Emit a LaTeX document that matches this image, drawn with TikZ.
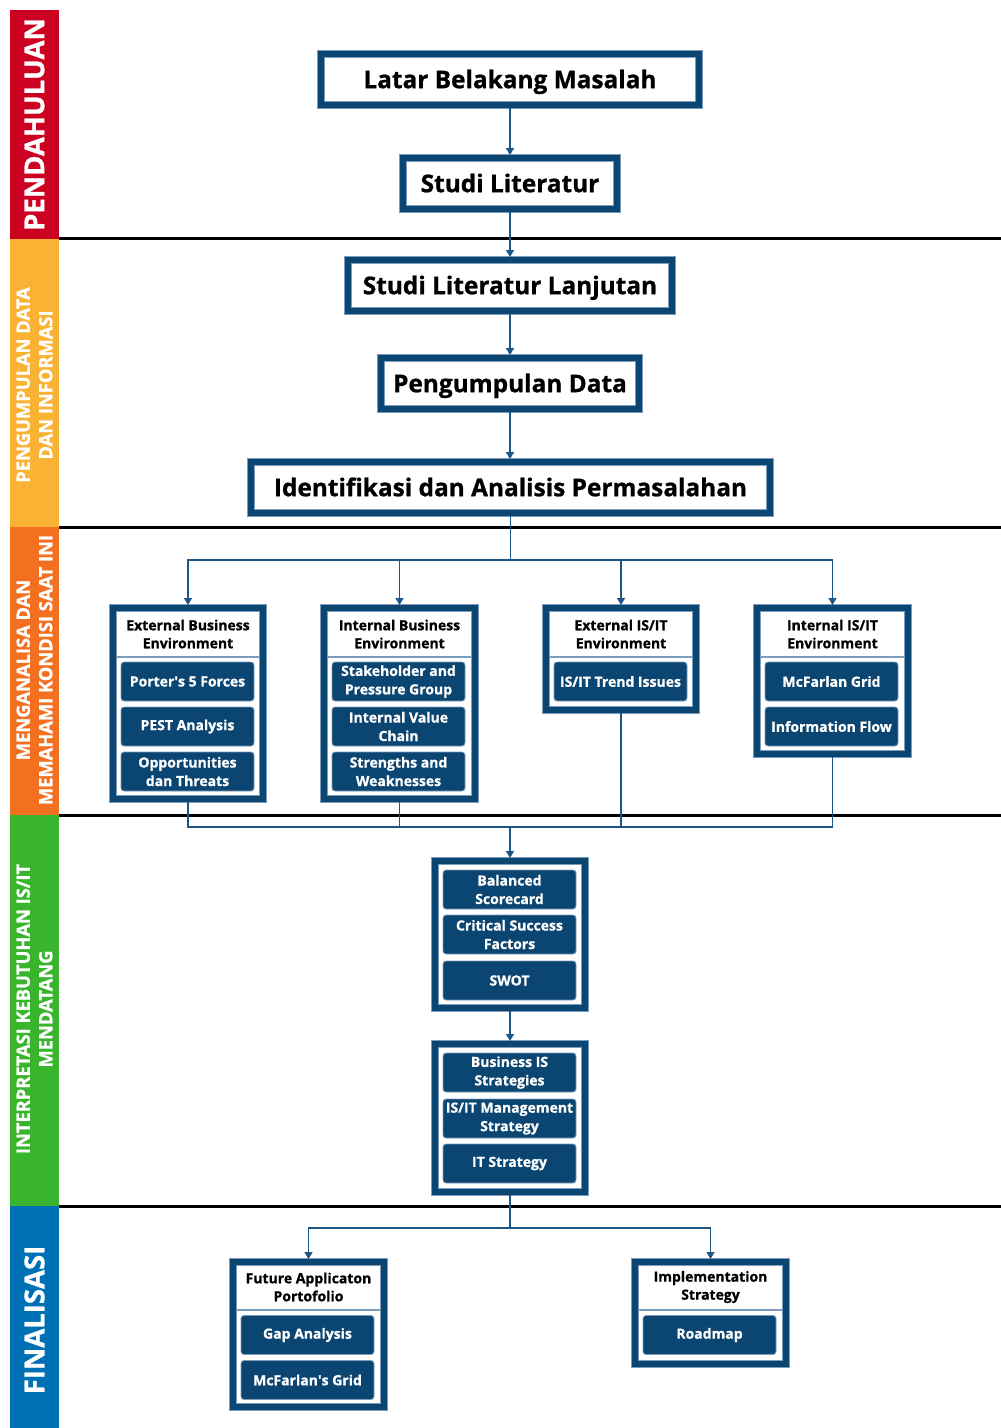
\documentclass[tikz,border=0pt]{standalone}
\usepackage{fontspec}
\setmainfont{Open Sans}[BoldFeatures={FakeBold=0.9}]
\usetikzlibrary{arrows.meta}
\definecolor{dblue}{HTML}{0B4572}
\definecolor{edge}{HTML}{7C9CBC}
\definecolor{conn}{HTML}{1D5585}
\definecolor{bred}{HTML}{CC0020}
\definecolor{byel}{HTML}{F9B233}
\definecolor{bora}{HTML}{F37021}
\definecolor{bgrn}{HTML}{38B52D}
\definecolor{bblu}{HTML}{0070B5}
\tikzset{
  mainbox/.style={draw=dblue, line width=6pt, preaction={draw=edge, line width=7.4pt},
    inner sep=0pt, font=\fontsize{24.4}{30}\selectfont\bfseries, text=black,
    text height=17.4pt, text depth=0pt},
  frame/.style={draw=dblue, line width=6pt, preaction={draw=edge, line width=7.4pt}, inner sep=0pt},
  hdr/.style={font=\fontsize{14}{18}\selectfont\bfseries, align=center, text=black, inner sep=0pt},
  item/.style={fill=dblue, draw=edge, line width=0.8pt, rounded corners=3pt,
    minimum width=133pt, minimum height=39pt, inner sep=0pt, text=white,
    font=\fontsize{14}{18.5}\selectfont\bfseries, align=center},
  divider/.style={draw=edge, line width=1.4pt},
  sepline/.style={draw=black, line width=3pt},
  lnk/.style={draw=conn, line width=1.5pt},
  arr/.style={draw=conn, line width=1.5pt, -{Triangle[width=8pt,length=7pt]}},
  sidebig/.style={rotate=90, text=white, font=\fontsize{27.5}{30}\selectfont\bfseries, inner sep=0pt},
  sidesmall/.style={rotate=90, text=white, font=\fontsize{18.3}{22.5}\selectfont\bfseries, align=center, inner sep=0pt}
}
\begin{document}
\begin{tikzpicture}[x=1pt,y=-1pt]
\useasboundingbox (0,0) rectangle (1001,1428);
% bands
\fill[bred] (10,10) rectangle (59,239);
\fill[byel] (10,239) rectangle (59,527);
\fill[bora] (10,527) rectangle (59,815);
\fill[bgrn] (10,815) rectangle (59,1206);
\fill[bblu] (10,1206) rectangle (59,1428);
\node[sidebig] (s1) at (34.5,124.5) {PENDAHULUAN};
\node[sidesmall] (s2) at (34.5,385) {PENGUMPULAN DATA\\DAN INFORMASI};
\node[sidesmall] (s3) at (34.5,670) {MENGANALISA DAN\\MEMAHAMI KONDISI SAAT INI};
\node[sidesmall] (s4) at (34.5,1009) {INTERPRETASI KEBUTUHAN IS/IT\\MENDATANG};
\node[sidebig] (s5) at (34.5,1320) {FINALISASI};
% separators
\draw[sepline] (59,238.5) -- (1001,238.5);
\draw[sepline] (59,527) -- (1001,527);
\draw[sepline] (59,815.5) -- (1001,815.5);
\draw[sepline] (59,1206) -- (1001,1206);
% main boxes
\node[mainbox, minimum width=378pt, minimum height=51pt] (latar) at (510,79.5) {Latar Belakang Masalah};
\node[mainbox, minimum width=214pt, minimum height=51pt] (studi) at (510,183.5) {Studi Literatur};
\node[mainbox, minimum width=324pt, minimum height=51pt] (lanjut) at (510,285.5) {Studi Literatur Lanjutan};
\node[mainbox, minimum width=258pt, minimum height=51pt] (kumpul) at (510,383.5) {Pengumpulan Data};
\node[mainbox, minimum width=519pt, minimum height=51pt] (ident) at (510.5,487.5) {Identifikasi dan Analisis Permasalahan};
\draw[arr] (latar.south) -- (studi.north);
\draw[arr] (studi.south) -- (lanjut.north);
\draw[arr] (lanjut.south) -- (kumpul.north);
\draw[arr] (kumpul.south) -- (kumpul.south |- ident.north);
% group 1
\node[frame, minimum width=150pt, minimum height=191pt] (g1) at (188,703.5) {};
\node[hdr] (g1h) at (188,634) {External Business\\Environment};
\draw[divider] (116,657) -- (260,657);
\node[item] (g1a) at (187.5,681.5) {Porter\textquotesingle s 5 Forces};
\node[item] (g1b) at (187.5,726.5) {PEST Analysis};
\node[item] (g1c) at (187.5,771.5) {Opportunities\\dan Threats};
% group 2
\node[frame, minimum width=151pt, minimum height=191pt] (g2) at (399.5,703.5) {};
\node[hdr] (g2h) at (399.5,634) {Internal Business\\Environment};
\draw[divider] (327,657) -- (472,657);
\node[item] (g2a) at (398.5,681.5) {Stakeholder and\\Pressure Group};
\node[item] (g2b) at (398.5,726.5) {Internal Value\\Chain};
\node[item] (g2c) at (398.5,771.5) {Strengths and\\Weaknesses};
% group 3
\node[frame, minimum width=150pt, minimum height=102pt] (g3) at (621,659) {};
\node[hdr] (g3h) at (621,634) {External IS/IT\\Environment};
\draw[divider] (549,657) -- (693,657);
\node[item] (g3a) at (620.5,681.5) {IS/IT Trend Issues};
% group 4
\node[frame, minimum width=151pt, minimum height=146pt] (g4) at (832.5,681) {};
\node[hdr] (g4h) at (832.5,634) {Internal IS/IT\\Environment};
\draw[divider] (760,657) -- (905,657);
\node[item] (g4a) at (831.5,681.5) {McFarlan Grid};
\node[item] (g4b) at (831.5,726.5) {Information Flow};
% branch to groups
\coordinate (br) at (510.5,560);
\draw[lnk] (ident.south) -- (br);
\draw[arr] (br) -| (g1.north);
\draw[arr] (br) -| (g2.north);
\draw[arr] (br) -| (g3.north);
\draw[arr] (br) -| (g4.north);
% middle groups
\node[frame, minimum width=150pt, minimum height=147pt] (m1) at (510,934.5) {};
\node[item] (m1a) at (509.5,889.5) {Balanced\\Scorecard};
\node[item] (m1b) at (509.5,934.5) {Critical Success\\Factors};
\node[item] (m1c) at (509.5,980.5) {SWOT};
\node[frame, minimum width=150pt, minimum height=148pt] (m2) at (510,1118) {};
\node[item] (m2a) at (509.5,1072.5) {Business IS\\Strategies};
\node[item] (m2b) at (509.5,1118.5) {IS/IT Management\\Strategy};
\node[item] (m2c) at (509.5,1163.5) {IT Strategy};
\coordinate (mg) at (510,827);
\draw[lnk] (g1.south) |- (mg);
\draw[lnk] (g2.south) |- (mg);
\draw[lnk] (g3.south) |- (mg);
\draw[lnk] (g4.south) |- (mg);
\draw[arr] (mg) -- (m1.north);
\draw[arr] (m1.south) -- (m2.north);
% bottom groups
\node[frame, minimum width=151pt, minimum height=145pt] (b1) at (308.5,1334.5) {};
\node[hdr] (b1h) at (308.5,1287) {Future Applicaton\\Portofolio};
\draw[divider] (236,1310) -- (381,1310);
\node[item] (b1a) at (307.5,1335) {Gap Analysis};
\node[item] (b1b) at (307.5,1380) {McFarlan\textquotesingle s Grid};
\node[frame, minimum width=151pt, minimum height=102pt] (b2) at (710.5,1313) {};
\node[hdr] (b2h) at (710.5,1287) {Implementation\\Strategy};
\draw[divider] (638,1310) -- (783,1310);
\node[item] (b2a) at (709.5,1335) {Roadmap};
\coordinate (bb) at (510,1228);
\draw[lnk] (m2.south) -- (bb);
\draw[arr] (bb) -| (b1.north);
\draw[arr] (bb) -| (b2.north);
\end{tikzpicture}
\end{document}
